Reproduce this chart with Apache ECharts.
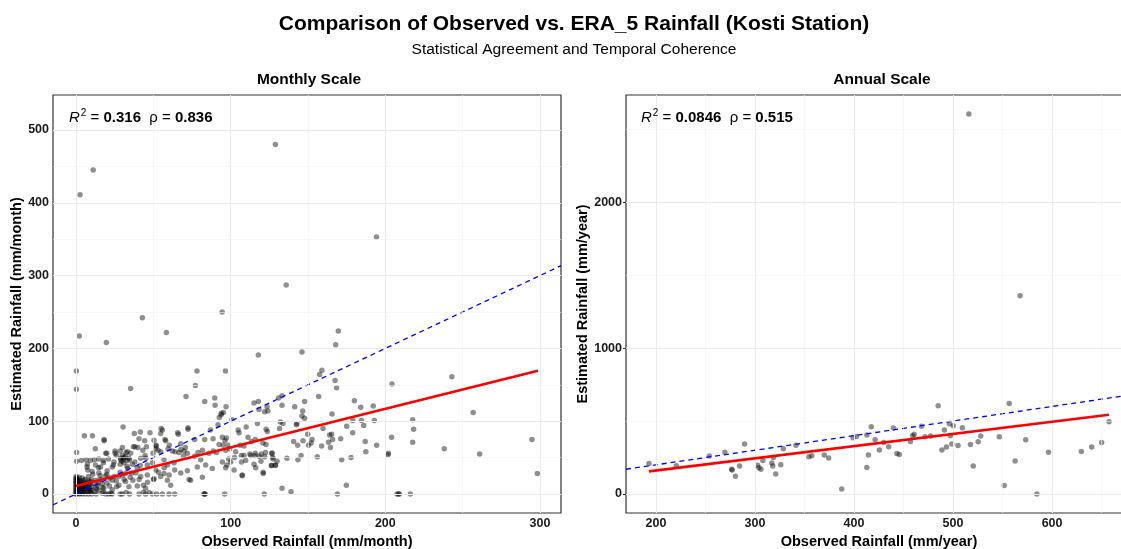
<!DOCTYPE html>
<html><head><meta charset="utf-8">
<script src="https://cdn.jsdelivr.net/npm/echarts@6/dist/echarts.min.js"></script>
<style>html,body{margin:0;padding:0;background:#fff}#c{width:1121px;height:549px}</style>
</head><body><div id="c"></div>
<script>
// ---------------- DATA ----------------
const monthlyPoints = [
[128.9,480],[11.1,445],[2.6,411],[194.3,353],[135.9,287],[94.5,250],[42.9,242],[58.4,222],[2.1,217],[169.6,224],[19.6,208],[167.9,205],[146.1,195],[117.9,191],[0.2,169],[78.2,169],[96.6,169],[159,170],[157.5,164],[243,161],[167.5,156],[168.5,146],[204.3,151],[77.2,149],[0.2,144],[35.3,145],[156.9,134],[71.1,134],[131,132],[133.2,135],[83.2,127],[89.7,132],[89.9,122],[97,120],[115.1,125],[117.9,127],[141.4,120],[146.6,114],[147.8,127],[146.1,107],[147.8,104],[122,113],[124.1,114],[123.5,120],[133.2,122],[180,128],[184.1,119],[192.2,121],[192.9,101],[186,94],[184.5,101],[179,101],[175,93],[165.5,110],[256.8,112],[217.7,102],[218.3,89],[217.7,71],[238.1,62],[261,55],[294.8,75],[298.3,28],[209,0],[216.2,0],[207.5,0],[208.6,0],[202,56],[204,78],[93.8,109],[95.3,112],[91.8,95],[118.3,116],[132.1,99],[142.8,97],[117.3,97],
[122.9,89],[123.7,86],[131.6,90],[133.8,97],[142.5,95],[159.7,90],[165.3,82],[164,81],[165.9,75],[163.3,71],[164.5,64],[158.8,66],[171.1,76],[178.9,84],[187,72],[194.4,67],[187.4,58],[177.8,50],[171.8,47],[156,51],[149.8,82],[152.6,75],[150.4,67],[152,70],[140.7,72],[143.3,67],[146.8,73],[122.8,68],[119.8,55],[122,51],[126.7,56],[127.2,50],[130,45],[126.3,39],[128.9,39],[121.1,28],[136.4,49],[143.5,47],[145.5,53],[121.7,0],[133.2,8],[139,3],[169,0],[174.8,12],[201.7,54],[110,92],[104.8,88],[100.8,102],[92.6,105],[94,111],[105.4,84],[111.2,78],[113.4,72],[106,67],[108.6,66],[115.9,75],[120.8,70],[108.6,53],[98.7,48],[102.5,50],[107,44],[107.4,26],[97.5,40],[112.4,55],[115.9,56],[122.5,57],[126.7,56],[127.4,48],[128.9,40],[126.5,39],[121,30],[96.1,0],[82.9,0],[83.6,0],
[55.8,88],[54.7,83],[66.2,82],[72.4,89],[50.4,74],[58,73],[67.7,69],[76.7,75],[83.2,75],[88.6,76],[94.6,78],[96.3,73],[97.2,77],[98.5,67],[51.5,67],[53,60],[54.7,58],[59.5,62],[62.3,59],[66.6,57],[69.8,59],[72,56],[78.9,57],[81.7,60],[86,56],[90.9,57],[92.5,68],[96.8,60],[103.2,58],[106.9,53],[109.7,46],[113,53],[115.7,53],[118.5,52],[119.6,45],[116.2,36],[115.1,41],[107.5,25],[56.9,47],[59.1,40],[63.4,43],[69.4,52],[76.7,52],[80.6,47],[83.8,40],[88.1,35],[94.6,44],[100,44],[102.2,33],[96.8,36],[78.4,37],[72,32],[67.7,29],[63.8,33],[60.2,26],[56.9,28],[54.7,24],[59.1,19],[61.2,12],[73.1,20],[74.1,19],[81.7,23],[52.2,0],[55.8,0],[60.1,0],[63.8,0],[82.8,0],[65.7,84],[57.5,75],[60.3,67],[52,66],[70.7,64],[64.1,58],[67.8,61],[88.8,59],[95.2,67],[99.4,62],[86.9,88],[72.4,91],[55,90],
[5.4,80],[10.6,80],[18.2,73],[0.4,57],[0.4,45],[3.5,46],[6.5,47],[9.3,46],[11.9,47],[14.7,48],[17.7,46],[12.6,40],[15.8,37],[7.1,37],[10.4,31],[14.7,29],[20.1,32],[23.4,37],[24.5,44],[26,53],[28.8,47],[29.9,53],[30.9,43],[33.1,58],[34.2,49],[36.4,41],[35.3,56],[38.1,65],[41.6,85],[47.8,84],[44.4,73],[40.7,76],[45.5,65],[51.5,62],[49.8,56],[41.8,49],[44.6,53],[39.6,35],[46.1,40],[49.4,43],[51.5,33],[32,28],[27.7,24],[23.4,19],[19,25],[14.3,15],[9.3,17],[5,19],[3.9,9],[7.8,6],[12.6,9],[18,8],[23.4,6],[27.7,12],[32,17],[36.8,19],[41.8,24],[46.1,26],[50.4,21],[34.2,10],[39.6,11],[45,8],[21.2,0],[29.9,0],[34.6,0],[40.7,0],[45,0],[49.4,0],[16.9,1],[13,0],[9.3,2],[30.4,92],[37.7,83],[18.1,75],[12.5,62],[25.2,59],[19.2,56],[32.3,57],[19.9,56],[25.3,56],[28.5,59],[30,64],[30.7,48],[29.6,45],[37.1,65],[40,64],[43.2,60],[45.1,49],[41.5,39],[34.6,47],[33.3,35],[28.5,41],[24.2,40],[21,48],[17.7,43],[14.5,36],[7.3,41],[7.6,33],[10.8,27],[15.6,25],[19.9,27],[24.6,24],[28.5,30],[31.1,20],[35,23],[38.7,29],[40.8,20],[43.6,12],[46.2,16],[50.1,20],[53.3,30],[57,36],[32.4,2],[28.5,0],[22.5,1],[26.3,10],[21.6,11],[17.3,9],[13.4,7],[8.6,5],[5.2,2],[43.6,2],[47.3,2],[23.3,0],[19.3,0],
[0,0],[0,0],[0,2],[0,4],[0,6],[0,8],[0,10],[0,12],[0,14],[0,16],[0,18],[0,20],[0,22],[0,24],[1,1],[1,5],[1,9],[1,13],[1,17],[1,21],[2,0],[2,3],[2,7],[2,11],[2,15],[2,19],[2,23],[3,1],[3,5],[3,13],[3,18],[4,0],[4,3],[4,7],[4,12],[4,16],[4,22],[5,5],[5,10],[5,14],[6,0],[6,8],[6,12],[6,20],[7,3],[7,10],[7,15],[8,0],[8,12],[8,18],[8,24],[9,7],[9,13],[10,0],[10,5],[10,10],[10,20],[11,15],[12,3],[13,19],[14,12],[15,5],[16,20],[17,14],[18,2],[20,15],[22,22],[26,18],[30,26],[33,38],[36,29],[38,44],[31,50],[33,46],[32,51],[29,49]
];
const annualPoints = [
[516,2604],[567.7,1359],[485,604],[556.7,620],[657.5,495],[193,210],[220.6,194],[254,260],[269.6,287],[289.5,342],[276.4,169],[277,164],[280.3,121],[284.5,192],[302.7,198],[304,180],[306,169],[308,230],[317,212],[318,192],[318.6,251],[321,137],[326,201],[328.6,310],[341.4,335],[354.5,255],[357.4,262],[370,267],[374.4,246],[387.6,34],[399,385],[402.5,395],[413,404],[414.6,267],[413,182],[417.4,461],[421.3,372],[425.6,301],[430,353],[435,324],[439.8,452],[443.3,278],[445.8,271],[457,360],[459.3,399],[460.7,410],[468.2,465],[471.8,392],[477.4,397],[488.8,301],[491.3,438],[493.4,322],[496.3,481],[497.3,399],[498.8,342],[500.2,467],[505,333],[509.4,454],[517.6,340],[520.4,192],[525.4,358],[528,397],[546.7,392],[551.7,59],[562.7,226],[573.4,372],[584.7,0],[596.4,287],[629.5,292],[640,322],[650,353]
];
const monthlyXTicks = [0, 100, 200, 300];
const monthlyYTicks = [0, 100, 200, 300, 400, 500];
const monthlyXMinor = [50, 150, 250];
const monthlyYMinor = [50, 150, 250, 350, 450];
const annualXTicks = [200, 300, 400, 500, 600];
const annualYTicks = [0, 1000, 2000];
const annualXMinor = [250, 350, 450, 550, 650];
const annualYMinor = [500, 1500, 2500];
const monthlyXRange = [-14.9, 313.6];
const monthlyYRange = [-26.1, 548.1];
const annualXRange = [169.8, 680.7];
const annualYRange = [-130, 2734];
const monthlyFit = { intercept: 11, slope: 0.53, from: 0, to: 298.7 };
const annualFit = { intercept: -6.2, slope: 0.835, from: 193, to: 657.5 };
const monthlyStats = { r2: '0.316', rho: '0.836' };
const annualStats = { r2: '0.0846', rho: '0.515' };
const mainTitle = 'Comparison of Observed vs. ERA_5 Rainfall (Kosti Station)';
const subTitle = 'Statistical Agreement and Temporal Coherence';
const panelTitles = ['Monthly Scale', 'Annual Scale'];
const xNames = ['Observed Rainfall (mm/month)', 'Observed Rainfall (mm/year)'];
const yNames = ['Estimated Rainfall (mm/month)', 'Estimated Rainfall (mm/year)'];

// ---------------- CHART ----------------
const FONT = '"Liberation Sans", Arial, sans-serif';
const chart = echarts.init(document.getElementById('c'), null, { renderer: 'canvas' });

function axis(gi, range, ticks, name, gap) {
  return {
    type: 'value', gridIndex: gi, min: range[0], max: range[1],
    axisLine: { show: false },
    splitLine: { show: false },
    axisTick: { show: true, customValues: ticks, length: 3, lineStyle: { color: '#333', width: 1 } },
    axisLabel: { customValues: ticks, formatter: v => String(v), color: '#1a1a1a', fontWeight: 'bold', fontSize: 12.5, fontFamily: FONT, margin: 4 },
    name: name, nameLocation: 'middle', nameGap: gap,
    nameTextStyle: { fontWeight: 'bold', fontSize: 14.5, color: '#000', fontFamily: FONT }
  };
}
function gridSeries(gi, xMaj, xMin, yMaj, yMin) {
  const maj = { color: '#ebebeb', width: 1, type: 'solid' };
  const mino = { color: '#f3f3f3', width: 0.6, type: 'solid' };
  return {
    type: 'scatter', xAxisIndex: gi, yAxisIndex: gi, data: [], z: 1, silent: true,
    markLine: {
      silent: true, symbol: ['none', 'none'], label: { show: false }, animation: false,
      data: [
        ...xMin.map(v => ({ xAxis: v, lineStyle: mino })),
        ...yMin.map(v => ({ yAxis: v, lineStyle: mino })),
        ...xMaj.map(v => ({ xAxis: v, lineStyle: maj })),
        ...yMaj.map(v => ({ yAxis: v, lineStyle: maj }))
      ]
    }
  };
}
function pointSeries(gi, pts) {
  return { type: 'scatter', xAxisIndex: gi, yAxisIndex: gi, data: pts, symbolSize: 5.5,
    itemStyle: { color: 'rgba(0,0,0,0.55)' }, z: 3, silent: true, animation: false };
}
function identitySeries(gi, xr) {
  return { type: 'line', xAxisIndex: gi, yAxisIndex: gi, data: [[xr[0], xr[0]], [xr[1], xr[1]]],
    showSymbol: false, symbol: 'none', clip: true, z: 4, silent: true, animation: false,
    lineStyle: { color: '#0000ff', width: 1.3, type: [5, 4] } };
}
function fitSeries(gi, f) {
  return { type: 'line', xAxisIndex: gi, yAxisIndex: gi,
    data: [[f.from, f.intercept + f.slope * f.from], [f.to, f.intercept + f.slope * f.to]],
    showSymbol: false, symbol: 'none', z: 5, silent: true, animation: false,
    lineStyle: { color: '#ff0000', width: 2.6 } };
}
function statText(x, s) {
  return { type: 'text', x: x, y: 108, z: 10, silent: true,
    style: {
      text: '{i|R}{sup|2}{n| = }{b|' + s.r2 + '}{n|  \u03c1 = }{b|' + s.rho + '}',
      rich: {
        i: { fontStyle: 'italic', fontSize: 15, fontFamily: FONT, fill: '#000', color: '#000' },
        sup: { fontSize: 10, fontFamily: FONT, fill: '#000', color: '#000', padding: [0, 0, 9, 1] },
        n: { fontSize: 15, fontFamily: FONT, fill: '#000', color: '#000' },
        b: { fontSize: 15, fontWeight: 'bold', fontFamily: FONT, fill: '#000', color: '#000' }
      }
    } };
}
function centerText(x, y, text, font) {
  return { type: 'text', x: x, y: y, silent: true,
    style: { text: text, font: font, fill: '#000', align: 'center', verticalAlign: 'middle',
      textAlign: 'center', textVerticalAlign: 'middle' } };
}

const gridBase = { show: true, borderColor: '#333333', borderWidth: 1.2, backgroundColor: 'transparent',
  containLabel: false, outerBoundsMode: 'none' };
const option = {
  animation: false,
  backgroundColor: '#ffffff',
  grid: [
    Object.assign({ left: 53, top: 95, width: 508, height: 418 }, gridBase),
    Object.assign({ left: 626, top: 95, width: 506, height: 418 }, gridBase)
  ],
  xAxis: [
    axis(0, monthlyXRange, monthlyXTicks, xNames[0], 20),
    axis(1, annualXRange, annualXTicks, xNames[1], 20)
  ],
  yAxis: [
    axis(0, monthlyYRange, monthlyYTicks, yNames[0], 26),
    axis(1, annualYRange, annualYTicks, yNames[1], 35)
  ],
  series: [
    gridSeries(0, monthlyXTicks, monthlyXMinor, monthlyYTicks, monthlyYMinor),
    gridSeries(1, annualXTicks, annualXMinor, annualYTicks, annualYMinor),
    pointSeries(0, monthlyPoints),
    pointSeries(1, annualPoints),
    identitySeries(0, monthlyXRange),
    identitySeries(1, annualXRange),
    fitSeries(0, monthlyFit),
    fitSeries(1, annualFit)
  ],
  graphic: [
    centerText(574, 24, mainTitle, 'bold 21px ' + FONT),
    centerText(574, 50, subTitle, '15.5px ' + FONT),
    centerText(309, 80, panelTitles[0], 'bold 15.5px ' + FONT),
    centerText(882, 80, panelTitles[1], 'bold 15.5px ' + FONT),
    statText(69, monthlyStats),
    statText(641, annualStats)
  ]
};
chart.setOption(option);
</script>
</body></html>
